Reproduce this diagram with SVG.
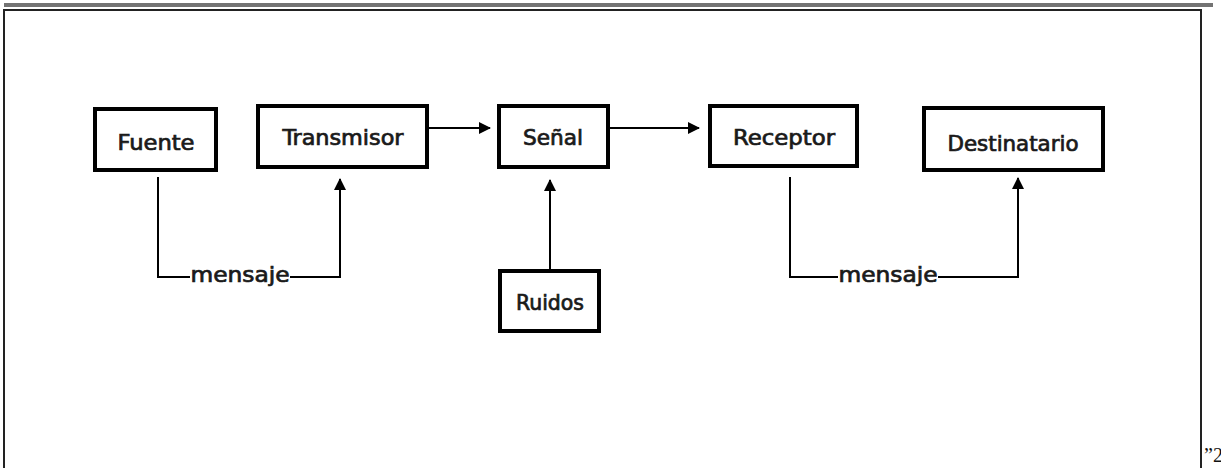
<svg xmlns="http://www.w3.org/2000/svg" width="1221" height="468" viewBox="0 0 1221 468">
<style>
.box{fill:#fff;stroke:#000;stroke-width:4}
.lbl{font-family:"DejaVu Sans Condensed","DejaVu Sans","Liberation Sans",sans-serif;font-size:22px;fill:#1a1a1a;stroke:#1a1a1a;stroke-width:0.7}
.con{fill:none;stroke:#000;stroke-width:2}
.frame{fill:none;stroke:#222;stroke-width:2}
</style>
<defs>
<marker id="ah" markerWidth="12" markerHeight="12" refX="11" refY="6" orient="auto" markerUnits="userSpaceOnUse">
<path d="M0,0 L12,6 L0,12 z" fill="#000"/>
</marker>
</defs>
<rect width="1221" height="468" fill="#fff"/>
<g id="frame">
<line x1="4" y1="4" x2="1213" y2="4" stroke="#444" stroke-width="1.5"/>
<line x1="4" y1="6" x2="1213" y2="6" stroke="#444" stroke-width="1.5"/>
<path class="frame" d="M4,468 V10 H1201 V468"/>
<text x="1204" y="462" font-family="Liberation Serif,serif" font-size="20" fill="#111">”2</text>
</g>
<g id="connectors">
<line class="con" x1="427" y1="128" x2="490" y2="128" marker-end="url(#ah)"/>
<line class="con" x1="608" y1="128" x2="699" y2="128" marker-end="url(#ah)"/>
<path class="con" d="M158,177 V277 H190"/>
<path class="con" d="M290,277 H340 V179" marker-end="url(#ah)"/>
<line class="con" x1="550" y1="272" x2="550" y2="180" marker-end="url(#ah)"/>
<path class="con" d="M790,177 V277 H838"/>
<path class="con" d="M938,277 H1018 V178" marker-end="url(#ah)"/>
<text class="lbl" x="240" y="282" text-anchor="middle" textLength="99" lengthAdjust="spacingAndGlyphs">mensaje</text>
<text class="lbl" x="888" y="282" text-anchor="middle" textLength="99" lengthAdjust="spacingAndGlyphs">mensaje</text>
</g>
<g id="fuente">
<rect class="box" x="95" y="109" width="121" height="61"/>
<text class="lbl" x="156" y="150" text-anchor="middle" textLength="77" lengthAdjust="spacingAndGlyphs">Fuente</text>
</g>
<g id="transmisor">
<rect class="box" x="258" y="106" width="169" height="61"/>
<text class="lbl" x="343" y="145" text-anchor="middle" textLength="121" lengthAdjust="spacingAndGlyphs">Transmisor</text>
</g>
<g id="senal">
<rect class="box" x="499" y="106" width="109" height="61"/>
<text class="lbl" x="553" y="145" text-anchor="middle" textLength="60" lengthAdjust="spacingAndGlyphs">Señal</text>
</g>
<g id="receptor">
<rect class="box" x="710" y="106" width="147" height="60"/>
<text class="lbl" x="784" y="145" text-anchor="middle" textLength="102" lengthAdjust="spacingAndGlyphs">Receptor</text>
</g>
<g id="destinatario">
<rect class="box" x="924" y="108" width="179" height="62"/>
<text class="lbl" x="1013" y="151" text-anchor="middle" textLength="131" lengthAdjust="spacingAndGlyphs">Destinatario</text>
</g>
<g id="ruidos">
<rect class="box" x="500" y="271" width="99" height="60"/>
<text class="lbl" x="550" y="310" text-anchor="middle" textLength="68" lengthAdjust="spacingAndGlyphs">Ruidos</text>
</g>
</svg>
